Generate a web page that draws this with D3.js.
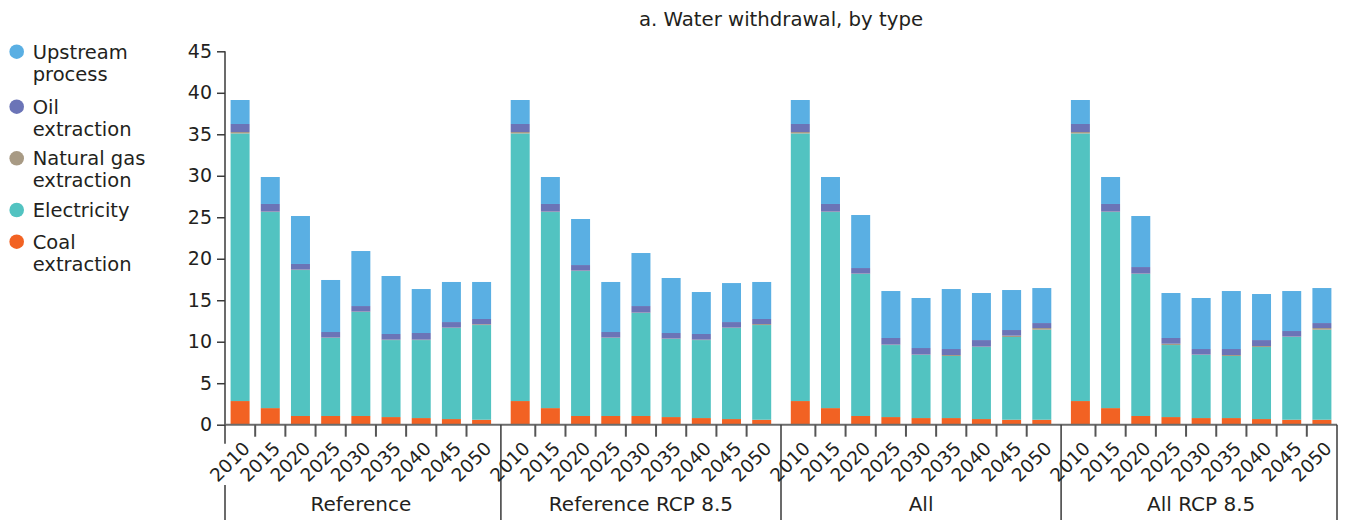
<!DOCTYPE html>
<html>
<head>
<meta charset="utf-8">
<script src="https://cdn.jsdelivr.net/npm/d3@7"></script>
<style>
  body { margin: 0; background: #fff; }
  text { font-family: "DejaVu Sans", sans-serif; fill: #231f20; }
</style>
</head>
<body>
<svg id="chart" width="1345" height="520"></svg>
<script>
// categories
const scenarios = ["Reference", "Reference RCP 8.5", "All", "All RCP 8.5"];
const years = ["2010", "2015", "2020", "2025", "2030", "2035", "2040", "2045", "2050"];
const yTicks = [0, 5, 10, 15, 20, 25, 30, 35, 40, 45];

// series values, one row per scenario (same order as scenarios)
const coalExtraction = [
  [2.85, 2.0, 1.05, 1.05, 1.05, 0.92, 0.8, 0.68, 0.6],
  [2.85, 2.0, 1.05, 1.05, 1.05, 0.92, 0.8, 0.68, 0.6],
  [2.85, 2.0, 1.05, 0.92, 0.8, 0.8, 0.68, 0.6, 0.6],
  [2.85, 2.0, 1.05, 0.92, 0.8, 0.8, 0.68, 0.6, 0.6]
];
const electricity = [
  [32.25, 23.63, 17.59, 9.4, 12.53, 9.28, 9.4, 10.97, 11.41],
  [32.25, 23.63, 17.47, 9.4, 12.41, 9.41, 9.4, 10.97, 11.41],
  [32.25, 23.63, 17.11, 8.68, 7.6, 7.48, 8.68, 9.97, 10.85],
  [32.25, 23.63, 17.11, 8.68, 7.6, 7.48, 8.68, 9.97, 10.85]
];
const naturalGas = [
  [0.17, 0.05, 0.05, 0.05, 0.05, 0.05, 0.05, 0.05, 0.1],
  [0.17, 0.05, 0.05, 0.05, 0.05, 0.05, 0.05, 0.05, 0.12],
  [0.17, 0.05, 0.05, 0.05, 0.05, 0.12, 0.05, 0.16, 0.2],
  [0.17, 0.05, 0.05, 0.16, 0.05, 0.12, 0.12, 0.05, 0.2]
];
const oilExtraction = [
  [0.97, 0.92, 0.68, 0.67, 0.67, 0.68, 0.8, 0.67, 0.63],
  [0.97, 0.92, 0.67, 0.67, 0.79, 0.67, 0.68, 0.67, 0.61],
  [0.97, 0.92, 0.67, 0.8, 0.79, 0.72, 0.79, 0.68, 0.6],
  [0.97, 0.92, 0.79, 0.69, 0.67, 0.72, 0.72, 0.67, 0.6]
];
const upstreamProcess = [
  [2.89, 3.25, 5.78, 6.27, 6.63, 6.99, 5.3, 4.83, 4.46],
  [2.89, 3.25, 5.55, 6.03, 6.39, 6.63, 5.06, 4.7, 4.46],
  [2.89, 3.25, 6.39, 5.66, 6.03, 7.23, 5.67, 4.82, 4.22],
  [2.89, 3.25, 6.15, 5.42, 6.15, 6.99, 5.55, 4.82, 4.22]
];

const seriesKeys = ["coal", "electricity", "gas", "oil", "upstream"];
const seriesData = {
  coal: coalExtraction, electricity: electricity, gas: naturalGas,
  oil: oilExtraction, upstream: upstreamProcess
};
const colors = {
  upstream: "#5aafe3", oil: "#6b74b7", gas: "#a89a84",
  electricity: "#52c3c1", coal: "#f26223"
};
const legendItems = [
  { key: "upstream", lines: ["Upstream", "process"] },
  { key: "oil", lines: ["Oil", "extraction"] },
  { key: "gas", lines: ["Natural gas", "extraction"] },
  { key: "electricity", lines: ["Electricity"] },
  { key: "coal", lines: ["Coal", "extraction"] }
];

// flat table for the stack
const rows = [];
scenarios.forEach((s, si) => {
  years.forEach((yr, yi) => {
    const r = { scenario: s, year: yr };
    seriesKeys.forEach(k => { r[k] = seriesData[k][si][yi]; });
    rows.push(r);
  });
});

const svg = d3.select("#chart");
const plotLeft = 225, plotRight = 1337, plotTop = 51.3, plotBottom = 424.7;

const y = d3.scaleLinear().domain([0, 45]).range([plotBottom, plotTop]);
const x0 = d3.scaleBand().domain(scenarios).range([plotLeft, plotRight])
  .paddingInner(0.07).paddingOuter(0.02);
const x1 = d3.scaleBand().domain(years).range([0, x0.bandwidth()])
  .paddingInner(0.371).paddingOuter(0);

const stacked = d3.stack().keys(seriesKeys)(rows);

// bars
svg.append("g")
  .selectAll("g")
  .data(stacked)
  .join("g")
  .attr("fill", d => colors[d.key])
  .selectAll("rect")
  .data(d => d)
  .join("rect")
  .attr("x", d => x0(d.data.scenario) + x1(d.data.year))
  .attr("width", x1.bandwidth())
  .attr("y", d => y(d[1]))
  .attr("height", d => y(d[0]) - y(d[1]));

// y axis
const yAxis = svg.append("g")
  .attr("transform", `translate(${plotLeft},0)`)
  .call(d3.axisLeft(y).tickValues(yTicks).tickSize(8).tickPadding(5));
yAxis.select(".domain").remove();
yAxis.selectAll(".tick line").attr("stroke", "#3a3a3a").attr("stroke-width", 1.5);
yAxis.selectAll(".tick text")
  .style("font-size", "19px").attr("fill", "#231f20")
  .style("font-family", "DejaVu Sans, sans-serif");
svg.append("line")
  .attr("x1", plotLeft).attr("x2", plotLeft)
  .attr("y1", plotTop).attr("y2", plotBottom)
  .attr("stroke", "#3a3a3a").attr("stroke-width", 1.5);

// x axis line
svg.append("line")
  .attr("x1", plotLeft).attr("x2", plotRight)
  .attr("y1", plotBottom).attr("y2", plotBottom)
  .attr("stroke", "#6b6b6b").attr("stroke-width", 2);

// group separators (the first one breaks where the year labels sit)
const gap = x0.step() * x0.paddingInner();
const seps = scenarios.map(s => x0(s) - gap / 2);
seps[0] = plotLeft;
seps.push(plotRight);
const sepSegments = [];
seps.forEach((sx, i) => {
  if (i === 0) {
    sepSegments.push({ x: sx, y1: plotBottom, y2: plotBottom + 19 });
    sepSegments.push({ x: sx, y1: 485, y2: 520 });
  } else {
    sepSegments.push({ x: sx, y1: plotBottom, y2: 520 });
  }
});
svg.append("g").selectAll("line")
  .data(sepSegments)
  .join("line")
  .attr("x1", d => d.x).attr("x2", d => d.x)
  .attr("y1", d => d.y1).attr("y2", d => d.y2)
  .attr("stroke", "#3a3a3a").attr("stroke-width", 1.5);

// minor ticks between years
const innerGap = x1.step() * x1.paddingInner();
const minor = [];
scenarios.forEach(s => {
  years.slice(1).forEach(yr => minor.push(x0(s) + x1(yr) - innerGap / 2));
});
svg.append("g").selectAll("line")
  .data(minor)
  .join("line")
  .attr("x1", d => d).attr("x2", d => d)
  .attr("y1", plotBottom).attr("y2", plotBottom + 12)
  .attr("stroke", "#555").attr("stroke-width", 2);

// year labels
svg.append("g").selectAll("text")
  .data(rows)
  .join("text")
  .attr("transform", d => {
    const cx = x0(d.scenario) + x1(d.year) + x1.bandwidth() / 2;
    return `translate(${cx + 11},${plotBottom + 25}) rotate(-45)`;
  })
  .attr("text-anchor", "end")
  .style("font-size", "18.5px")
  .text(d => d.year);

// scenario labels
svg.append("g").selectAll("text")
  .data(scenarios)
  .join("text")
  .attr("x", d => x0(d) + x0.bandwidth() / 2)
  .attr("y", 511)
  .attr("text-anchor", "middle")
  .style("font-size", "20px")
  .text(d => d);

// title
svg.append("text")
  .attr("x", 781)
  .attr("y", 26)
  .attr("text-anchor", "middle")
  .style("font-size", "19.7px")
  .text("a. Water withdrawal, by type");

// legend
const legendY = [51.7, 106.7, 158.3, 210, 241.7];
const legend = svg.append("g").selectAll("g")
  .data(legendItems)
  .join("g")
  .attr("transform", (d, i) => `translate(0,${legendY[i]})`);
legend.append("circle")
  .attr("cx", 16.7).attr("cy", 0).attr("r", 7.3)
  .attr("fill", d => colors[d.key]);
legend.append("text")
  .attr("x", 32.7)
  .attr("y", 7)
  .style("font-size", "19.5px")
  .selectAll("tspan")
  .data(d => d.lines)
  .join("tspan")
  .attr("x", 32.7)
  .attr("dy", (d, i) => i === 0 ? 0 : 22)
  .text(d => d);
</script>
</body>
</html>
